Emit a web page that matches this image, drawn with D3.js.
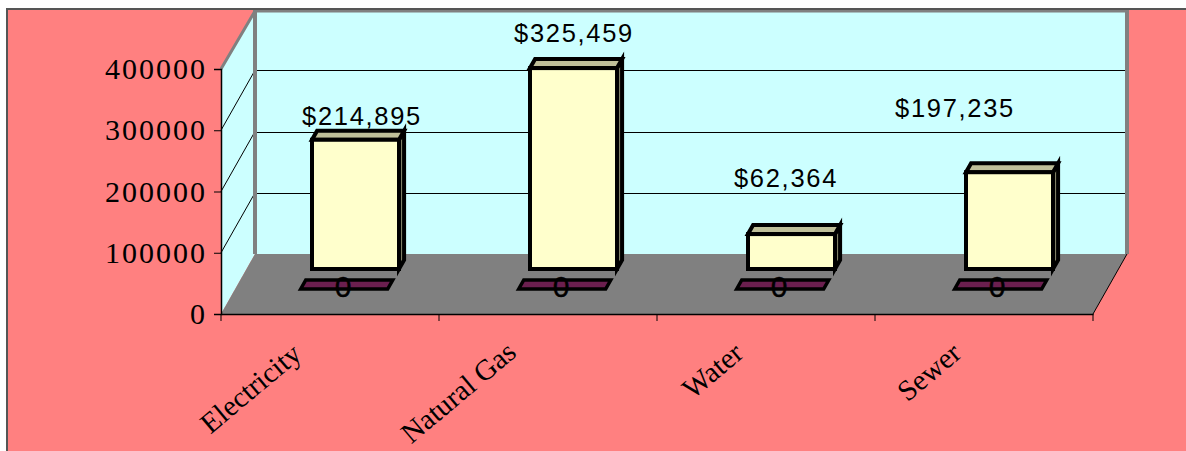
<!DOCTYPE html>
<html>
<head>
<meta charset="utf-8">
<script src="https://cdn.jsdelivr.net/npm/d3@7"></script>
<style>
  html, body { margin: 0; padding: 0; background: #fff; }
  svg { display: block; }
</style>
</head>
<body>
<div id="chart"></div>
<script>
const categories = ["Electricity", "Natural Gas", "Water", "Sewer"];
const barValues = [211000, 328000, 57000, 158000];
const flatValues = [0, 0, 0, 0];
const barLabels = ["$214,895", "$325,459", "$62,364", "$197,235"];
const flatLabels = ["0", "0", "0", "0"];
const yTicks = [0, 100000, 200000, 300000, 400000];

const width = 1186, height = 451;
const serif = "'Liberation Serif', serif",
      sans = "'Liberation Sans', sans-serif";

// front plane of the box, the rest is sheared back from it
const left = 221, right = 1093, floorY = 314, topY = 69;
const depthX = 34, depthY = 60;

const x = d3.scaleBand().domain(categories).range([left, right]);
const y = d3.scaleLinear().domain([0, 400000]).range([floorY, topY]);

// shift a point from the front plane to depth d (pixels up the floor)
const sh = (px, py, d) => [px + d * depthX / depthY, py - d];
const poly = pts => "M" + pts.map(p => p.join(",")).join("L") + "Z";

const svg = d3.select("#chart").append("svg")
  .attr("width", width)
  .attr("height", height);

svg.append("rect")
  .attr("x", 7).attr("y", 9)
  .attr("width", width + 10).attr("height", height)
  .attr("fill", "#ff8080");

// walls
let backL = left + depthX, backR = right + depthX, backB = floorY - depthY, backT = topY - depthY;

svg.append("path")
  .attr("d", poly([[backL, backT], [backR, backT], [backR, backB], [backL, backB]]))
  .attr("fill", "#ccffff");
svg.append("path")
  .attr("d", poly([[left, topY], [backL, backT], [backL, backB], [left, floorY]]))
  .attr("fill", "#ccffff");
svg.append("path")
  .attr("d", poly([[left, floorY], [backL, backB], [backR, backB], [right, floorY]]))
  .attr("fill", "#808080");

// gridlines on both walls
let innerTicks = yTicks.filter(d => d > 0 && d < 400000);
let grid = svg.append("g").attr("fill", "none").attr("stroke", "#000").attr("stroke-width", 1);
grid.selectAll("line.back")
  .data(innerTicks)
  .join("line")
  .attr("class", "back")
  .attr("x1", backL).attr("x2", backR)
  .attr("y1", d => Math.round(y(d) - depthY) + 0.5)
  .attr("y2", d => Math.round(y(d) - depthY) + 0.5);
grid.selectAll("line.side")
  .data(innerTicks)
  .join("line")
  .attr("class", "side")
  .attr("x1", left).attr("x2", backL)
  .attr("y1", d => y(d)).attr("y2", d => y(d) - depthY);

// wall edges
svg.append("path")
  .attr("d", `M${left},${topY}L${backL},${backT + 2}L${backR},${backT + 2}`)
  .attr("fill", "none").attr("stroke", "#808080").attr("stroke-width", 3);
svg.append("path")
  .attr("d", `M${backL},${backT}V${backB}`)
  .attr("stroke", "#808080").attr("stroke-width", 4);
svg.append("path")
  .attr("d", `M${backR},${backT}V${backB}`)
  .attr("stroke", "#808080").attr("stroke-width", 4);
svg.append("path")
  .attr("d", `M${right},${floorY}L${backR},${backB}`)
  .attr("stroke", "#000").attr("stroke-width", 1);

// chart area border, only top and left are on the page
svg.append("path")
  .attr("d", `M7,${height}V9H${width}`)
  .attr("fill", "none").attr("stroke", "#555").attr("stroke-width", 2);

// zero series, flat plates near the front of the floor
const plateDepth = 25, barDepth = 45, boxW = 87, boxD = 9;

function drawBox(g, cat, value, depth) {
  let cx = x(cat) + x.bandwidth() / 2,
      [x0, yb] = sh(cx - boxW / 2, floorY, depth),
      x1 = x0 + boxW,
      yt = y(value) - depth,
      dx = boxD * depthX / depthY;

  if (value > 0) {
    g.append("path").attr("fill", "#808066")
      .attr("d", poly([[x1, yt], [x1 + dx, yt - boxD], [x1 + dx, yb - boxD], [x1, yb]]));
    g.append("path").attr("fill", "#bfbf99")
      .attr("d", poly([[x0, yt], [x0 + dx, yt - boxD], [x1 + dx, yt - boxD], [x1, yt]]));
    g.append("rect").attr("fill", "#ffffcc")
      .attr("x", x0).attr("y", yt).attr("width", boxW).attr("height", yb - yt);
  } else {
    g.append("path").attr("fill", "#6b1f4f")
      .attr("d", poly([[x0, yb], [x0 + dx, yb - boxD], [x1 + dx, yb - boxD], [x1, yb]]));
  }
}

let plates = svg.append("g").attr("stroke", "#000").attr("stroke-width", 3.5);
categories.forEach((c, i) => drawBox(plates, c, flatValues[i], plateDepth));

let bars = svg.append("g").attr("stroke", "#000").attr("stroke-width", 4).attr("stroke-miterlimit", 10);
categories.forEach((c, i) => drawBox(bars, c, barValues[i], barDepth));

// axes
let yAxis = svg.append("g")
  .attr("transform", `translate(${left},0)`)
  .call(d3.axisLeft(y).tickValues(yTicks).tickFormat(d3.format("d")).tickSize(7).tickPadding(7));
let xAxis = svg.append("g")
  .attr("transform", `translate(0,${floorY})`)
  .call(d3.axisBottom(x).tickSize(0).tickFormat(""));

xAxis.selectAll(".tick").remove();
xAxis.selectAll("line.cat")
  .data(d3.range(categories.length + 1))
  .join("line")
  .attr("class", "cat")
  .attr("x1", i => left + i * x.step())
  .attr("x2", i => left + i * x.step())
  .attr("y1", 0).attr("y2", 7)
  .attr("stroke", "#000");

svg.selectAll(".domain").attr("stroke", "#000").attr("stroke-width", 1.5);
yAxis.selectAll("text")
  .attr("font-family", serif)
  .attr("font-size", 30)
  .attr("letter-spacing", 2)
  .attr("fill", "#000");

// category labels, read upward, each nudged as in the original
const catNudge = [[4, 1], [1, -1], [10, 0], [10, 0]];
svg.append("g").selectAll("text")
  .data(categories)
  .join("text")
  .attr("transform", (d, i) => `translate(${x(d) + x.bandwidth() / 2 - 31 + catNudge[i][0]},${floorY + 42 + catNudge[i][1]}) rotate(-40)`)
  .attr("text-anchor", "end")
  .attr("font-family", serif)
  .attr("font-size", 29)
  .attr("fill", "#000")
  .text(d => d);

// value labels were placed by hand in the original, so they sit off the bar tops
const labelOffset = [[32, 15], [26, 26], [20, 47], [-29, 55]];
svg.append("g").selectAll("text")
  .data(categories)
  .join("text")
  .attr("x", (d, i) => x(d) + x.bandwidth() / 2 + labelOffset[i][0])
  .attr("y", (d, i) => y(barValues[i]) - barDepth - labelOffset[i][1])
  .attr("text-anchor", "middle")
  .attr("font-family", sans)
  .attr("font-size", 25.5)
  .attr("letter-spacing", 1.7)
  .attr("fill", "#000")
  .text((d, i) => barLabels[i]);

svg.append("g").selectAll("text")
  .data(categories)
  .join("text")
  .attr("x", d => x(d) + x.bandwidth() / 2 + 13)
  .attr("y", floorY - 17)
  .attr("text-anchor", "middle")
  .attr("font-family", sans)
  .attr("font-size", 30)
  .attr("fill", "#000")
  .attr("stroke", "#000")
  .attr("stroke-width", 0.4)
  .text((d, i) => flatLabels[i]);
</script>
</body>
</html>
